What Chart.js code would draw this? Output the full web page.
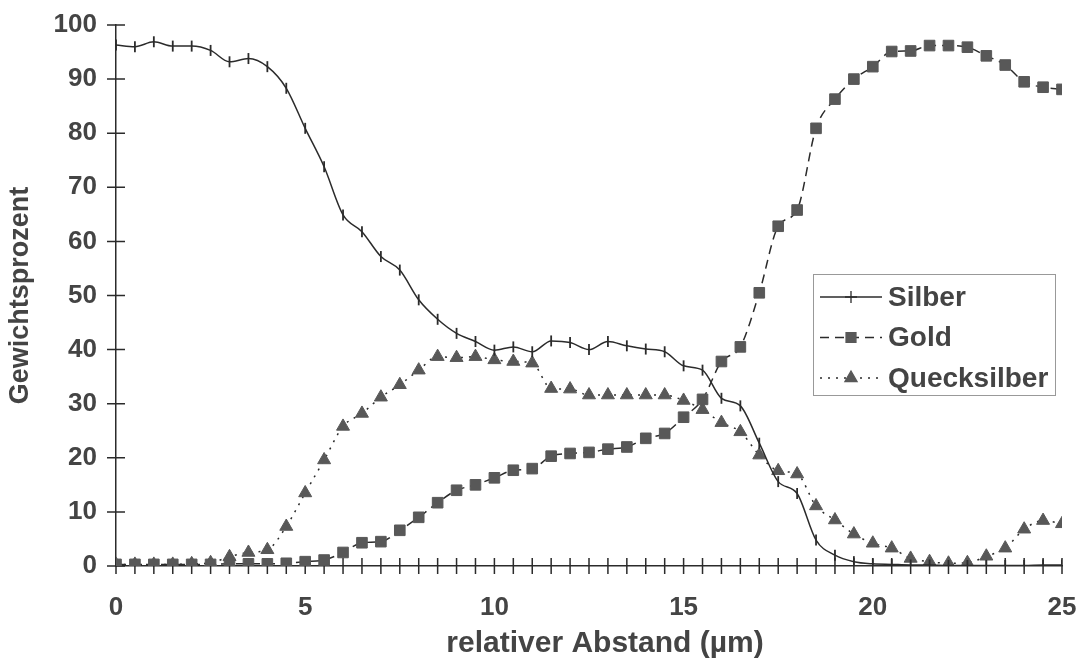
<!DOCTYPE html>
<html>
<head>
<meta charset="utf-8">
<script src="https://cdn.jsdelivr.net/npm/chart.js@4"></script>
<style>
    html, body { margin: 0; padding: 0; background: #fff; }
    #wrap { width: 1080px; height: 668px; }
</style>
</head>
<body>
<div id="wrap"><canvas id="chartCanvas" width="1080" height="668"></canvas></div>
<script>
// 資料
const abstand = [0, 0.5, 1, 1.5, 2, 2.5, 3, 3.5, 4, 4.5, 5, 5.5, 6, 6.5, 7, 7.5, 8, 8.5, 9, 9.5,
    10, 10.5, 11, 11.5, 12, 12.5, 13, 13.5, 14, 14.5, 15, 15.5, 16, 16.5, 17, 17.5, 18, 18.5, 19, 19.5,
    20, 20.5, 21, 21.5, 22, 22.5, 23, 23.5, 24, 24.5, 25];

const silber = [96.3, 96.0, 96.9, 96.1, 96.1, 95.3, 93.2, 93.8, 92.3, 88.3, 80.9, 73.8, 64.9, 61.8, 57.2, 54.7, 49.2, 45.6, 43.0, 41.5,
    39.9, 40.5, 39.6, 41.6, 41.3, 40.0, 41.5, 40.7, 40.1, 39.6, 37.0, 36.2, 31.0, 29.6, 22.7, 15.6, 13.4, 4.8, 2.0, 0.8,
    0.4, 0.3, 0.2, 0.2, 0.1, 0.1, 0.1, 0.1, 0.1, 0.2, 0.2];

const gold = [0.3, 0.3, 0.3, 0.3, 0.3, 0.3, 0.4, 0.4, 0.4, 0.5, 0.8, 1.1, 2.5, 4.3, 4.5, 6.6, 9.0, 11.7, 14.0, 15.0,
    16.3, 17.7, 18.0, 20.3, 20.8, 21.0, 21.6, 22.0, 23.6, 24.5, 27.5, 30.8, 37.8, 40.5, 50.5, 62.8, 65.8, 80.9, 86.3, 90.0,
    92.3, 95.1, 95.2, 96.2, 96.2, 95.9, 94.3, 92.6, 89.5, 88.5, 88.1];

const quecksilber = [0.3, 0.3, 0.3, 0.3, 0.4, 0.6, 1.7, 2.5, 3.0, 7.3, 13.5, 19.6, 25.8, 28.2, 31.2, 33.5, 36.2, 38.7, 38.5, 38.7,
    38.1, 37.8, 37.5, 32.8, 32.7, 31.6, 31.6, 31.6, 31.6, 31.6, 30.6, 28.9, 26.5, 24.8, 20.5, 17.6, 17.0, 11.1, 8.5, 5.9,
    4.2, 3.3, 1.4, 0.8, 0.5, 0.6, 1.8, 3.3, 6.8, 8.4, 7.8];

const yTicks = [0, 10, 20, 30, 40, 50, 60, 70, 80, 90, 100];

const xTitle = 'relativer Abstand (µm)';

const FONT = '"Liberation Sans", Arial, sans-serif';
const TEXT_COLOR = '#444';
const LINE_COLOR = '#2b2b2b';
const MARK_COLOR = '#585858';

const UiChart = {
    chart: null,

    /**
     * 轉成點資料
     */
    toPoints: function(values) {
        return values.map((v, i) => ({ x: abstand[i], y: v }));
    },

    /**
     * 軸上的十字刻度 + X 軸標題
     */
    crossTicks: {
        id: 'crossTicks',
        beforeDatasetsDraw: function(chart) {
            const ctx = chart.ctx;
            const xs = chart.scales.x;
            const ys = chart.scales.y;
            const x0 = xs.left;
            const y0 = ys.bottom;
            ctx.save();
            ctx.strokeStyle = LINE_COLOR;
            ctx.lineWidth = 1.5;
            ctx.beginPath();
            yTicks.forEach(v => {
                const py = ys.getPixelForValue(v);
                ctx.moveTo(x0 - 9, py);
                ctx.lineTo(x0 + 9, py);
            });
            abstand.forEach(v => {
                const px = xs.getPixelForValue(v);
                ctx.moveTo(px, y0 - 8);
                ctx.lineTo(px, y0 + 8);
            });
            ctx.stroke();

            // X 軸標題（原圖略偏右）
            ctx.fillStyle = TEXT_COLOR;
            ctx.font = 'bold 30px ' + FONT;
            ctx.textAlign = 'center';
            ctx.textBaseline = 'middle';
            ctx.fillText(xTitle, (xs.left + xs.right) / 2 + 16, xs.bottom - 24);
            ctx.restore();
        }
    },

    /**
     * 圖例（線 + 標記）
     */
    legendBox: {
        id: 'legendBox',
        afterDraw: function(chart) {
            const ctx = chart.ctx;
            const area = chart.chartArea;
            const left = area.right - 249;
            const top = area.top + 249;
            const w = 242;
            const h = 121;
            ctx.save();
            ctx.fillStyle = '#fff';
            ctx.fillRect(left, top, w, h);
            ctx.strokeStyle = '#999';
            ctx.lineWidth = 1;
            ctx.strokeRect(left + 0.5, top + 0.5, w, h);

            chart.data.datasets.forEach((ds, i) => {
                const cy = top + 23 + i * 40.5;
                const lx = left + 7;
                ctx.strokeStyle = LINE_COLOR;
                ctx.lineWidth = 1.3;
                ctx.setLineDash(ds.borderDash || []);
                ctx.beginPath();
                ctx.moveTo(lx, cy);
                ctx.lineTo(lx + 62, cy);
                ctx.stroke();
                ctx.setLineDash([]);
                ctx.fillStyle = MARK_COLOR;
                ctx.strokeStyle = ds.legendStyle === 'cross' ? LINE_COLOR : MARK_COLOR;
                Chart.helpers.drawPoint(ctx, {
                    pointStyle: ds.legendStyle,
                    radius: ds.legendRadius,
                    rotation: 0,
                    borderWidth: 1.5
                }, lx + 31, cy);
                ctx.fillStyle = TEXT_COLOR;
                ctx.font = 'bold 28px ' + FONT;
                ctx.textBaseline = 'middle';
                ctx.textAlign = 'left';
                ctx.fillText(ds.label, lx + 68, cy + 1);
            });
            ctx.restore();
        }
    },

    init: function() {
        const ctx = document.getElementById('chartCanvas').getContext('2d');

        this.chart = new Chart(ctx, {
            type: 'line',
            data: {
                datasets: [{
                    label: 'Silber',
                    data: this.toPoints(silber),
                    borderColor: LINE_COLOR,
                    borderWidth: 1.5,
                    pointStyle: 'line',
                    rotation: 90,
                    pointRadius: 5.5,
                    pointBorderColor: LINE_COLOR,
                    pointBorderWidth: 1.8,
                    legendStyle: 'cross',
                    legendRadius: 6
                }, {
                    label: 'Gold',
                    data: this.toPoints(gold),
                    borderColor: LINE_COLOR,
                    borderWidth: 1.5,
                    borderDash: [9, 6],
                    pointStyle: 'rect',
                    pointRadius: 7.5,
                    pointBackgroundColor: MARK_COLOR,
                    pointBorderColor: MARK_COLOR,
                    pointBorderWidth: 1,
                    legendStyle: 'rect',
                    legendRadius: 7
                }, {
                    label: 'Quecksilber',
                    data: this.toPoints(quecksilber),
                    borderColor: LINE_COLOR,
                    borderWidth: 1.5,
                    borderDash: [2, 6],
                    pointStyle: 'triangle',
                    pointRadius: 7.5,
                    pointBackgroundColor: MARK_COLOR,
                    pointBorderColor: MARK_COLOR,
                    pointBorderWidth: 1,
                    legendStyle: 'triangle',
                    legendRadius: 7
                }]
            },
            options: {
                responsive: false,
                animation: false,
                devicePixelRatio: 1,
                layout: {
                    padding: { top: 25, right: 18, bottom: 0, left: 0 }
                },
                elements: {
                    line: { cubicInterpolationMode: 'monotone' }
                },
                plugins: {
                    legend: { display: false },
                    tooltip: { enabled: false }
                },
                scales: {
                    x: {
                        type: 'linear',
                        min: 0,
                        max: 25,
                        grid: { display: false, drawTicks: false },
                        border: { display: true, color: LINE_COLOR, width: 1.5 },
                        ticks: {
                            stepSize: 5,
                            padding: 26,
                            color: TEXT_COLOR,
                            font: { family: FONT, size: 26, weight: 'bold' }
                        },
                        title: { display: false },
                        afterFit: function(scale) {
                            scale.height = 102;
                            scale.paddingLeft = 0;
                            scale.paddingRight = 0;
                        }
                    },
                    y: {
                        min: 0,
                        max: 100,
                        grid: { display: false, drawTicks: false },
                        border: { display: true, color: LINE_COLOR, width: 1.5 },
                        ticks: {
                            stepSize: 10,
                            padding: 19,
                            color: TEXT_COLOR,
                            font: { family: FONT, size: 26, weight: 'bold' }
                        },
                        title: {
                            display: true,
                            text: 'Gewichtsprozent',
                            color: TEXT_COLOR,
                            padding: { top: 4, bottom: 0 },
                            font: { family: FONT, size: 27, weight: 'bold' }
                        },
                        afterFit: function(scale) {
                            scale.width = 116;
                            scale.paddingTop = 0;
                            scale.paddingBottom = 0;
                        }
                    }
                }
            },
            plugins: [this.crossTicks, this.legendBox]
        });
    }
};

UiChart.init();
</script>
</body>
</html>
